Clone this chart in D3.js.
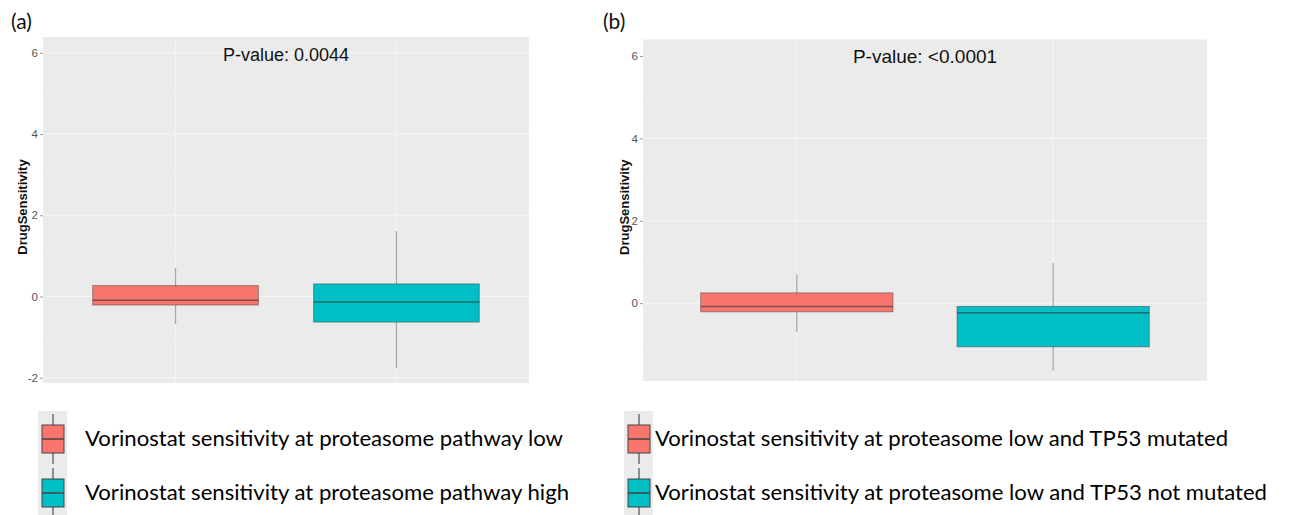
<!DOCTYPE html>
<html>
<head>
<meta charset="utf-8">
<script src="https://cdn.jsdelivr.net/npm/d3@7"></script>
<style>
  body { margin: 0; background: #fff; }
  svg { display: block; }
</style>
</head>
<body>
<div id="container"></div>
<script>
/* DATA */
// panel (a)
const groupsA = ["Vorinostat sensitivity at proteasome pathway low", "Vorinostat sensitivity at proteasome pathway high"]
// five numbers: lower whisker, q1, median, q3, upper whisker
const boxA_low = [-0.68, -0.21, -0.09, 0.27, 0.70]
const boxA_high = [-1.76, -0.63, -0.135, 0.31, 1.61]
const ticksA = [-2, 0, 2, 4, 6]
const minorA = [-1, 1, 3, 5]
const pvalA = "P-value: 0.0044"

// panel (b)
const groupsB = ["Vorinostat sensitivity at proteasome low and TP53 mutated", "Vorinostat sensitivity at proteasome low and TP53 not mutated"]
const boxB_mut = [-0.70, -0.21, -0.08, 0.25, 0.70]
const boxB_notmut = [-1.64, -1.06, -0.235, -0.08, 0.98]
const ticksB = [0, 2, 4, 6]
const minorB = [-1, 1, 3, 5]
const pvalB = "P-value: <0.0001"

const colors = ["#F8766D", "#00BFC4"]

/* CONSTANTS */
const width = 1289
const height = 515

const svg = d3.select("#container")
  .append("svg")
  .attr("width", width)
  .attr("height", height)

svg.append("rect").attr("width", width).attr("height", height).attr("fill", "#fff")

function drawPanel(p) {
  const g = svg.append("g")

  const xScale = d3.scalePoint()
    .domain(p.groups)
    .range([p.left, p.right])
    .padding(0.6)

  const yScale = d3.scaleLinear()
    .domain(p.yDomain)
    .range([p.bottom, p.top])

  const step = xScale.step()
  const boxW = step * 0.75

  // panel background
  g.append("rect")
    .attr("x", p.left).attr("y", p.top)
    .attr("width", p.right - p.left).attr("height", p.bottom - p.top)
    .attr("fill", "#ebebeb")

  // minor grid
  g.selectAll(".minor").data(p.minor).join("line")
    .attr("x1", p.left).attr("x2", p.right)
    .attr("y1", d => yScale(d)).attr("y2", d => yScale(d))
    .attr("stroke", "#f1f1f1").attr("stroke-width", 0.8)

  // major grid
  g.selectAll(".major").data(p.ticks).join("line")
    .attr("x1", p.left).attr("x2", p.right)
    .attr("y1", d => yScale(d)).attr("y2", d => yScale(d))
    .attr("stroke", "#f6f6f6").attr("stroke-width", 1.1)

  g.selectAll(".vgrid").data(p.groups).join("line")
    .attr("x1", d => xScale(d)).attr("x2", d => xScale(d))
    .attr("y1", p.top).attr("y2", p.bottom)
    .attr("stroke", "#f3f3f3").attr("stroke-width", 1.1)

  // axis
  const yAxis = d3.axisLeft(yScale).tickValues(p.ticks).tickFormat(d => String(d)).tickSize(3).tickPadding(2)
  const ax = g.append("g")
    .attr("transform", `translate(${p.left},0)`)
    .call(yAxis)
  ax.select(".domain").remove()
  ax.selectAll(".tick line").attr("stroke", "#999")
  ax.selectAll(".tick text")
    .attr("fill", "#555")
    .style("font-family", "'Liberation Sans', Arial, sans-serif")
    .style("font-size", "11.5px")

  // y title
  g.append("text")
    .attr("transform", `translate(${p.titleX},${(p.top + p.bottom) / 2 - 3}) rotate(-90)`)
    .attr("text-anchor", "middle")
    .style("font-family", "'Liberation Sans', Arial, sans-serif")
    .style("font-weight", "bold")
    .style("font-size", "13px")
    .attr("fill", "#111")
    .text("DrugSensitivity")

  // boxes
  const boxes = g.selectAll(".box").data(p.stats).join("g")
    .attr("transform", (d, i) => `translate(${xScale(p.groups[i])},0)`)

  boxes.append("line")
    .attr("y1", d => yScale(d[0])).attr("y2", d => yScale(d[4]))
    .attr("stroke", "#333").attr("stroke-opacity", 0.4).attr("stroke-width", 1.2)

  boxes.append("rect")
    .attr("x", -boxW / 2).attr("width", boxW)
    .attr("y", d => yScale(d[3]))
    .attr("height", d => yScale(d[1]) - yScale(d[3]))
    .attr("fill", (d, i) => colors[i])
    .attr("stroke", "#333").attr("stroke-opacity", 0.45).attr("stroke-width", 1)

  boxes.append("line")
    .attr("x1", -boxW / 2).attr("x2", boxW / 2)
    .attr("y1", d => yScale(d[2])).attr("y2", d => yScale(d[2]))
    .attr("stroke", "#333").attr("stroke-opacity", 0.6).attr("stroke-width", 1.5)

  // p-value
  g.append("text")
    .attr("x", (p.left + p.right) / 2)
    .attr("y", p.pY)
    .attr("text-anchor", "middle")
    .style("font-family", "'Liberation Sans', Arial, sans-serif")
    .style("font-size", p.pSize)
    .attr("fill", "#111")
    .text(p.pval)

  // panel letter
  svg.append("text")
    .attr("x", p.letterX).attr("y", 29)
    .style("font-family", "Lato, sans-serif")
    .style("font-size", "21px")
    .attr("fill", "#111")
    .text(p.letter)

  // legend
  p.groups.forEach((name, i) => {
    const cy = p.legY[i]
    const kx = p.keyX
    g.append("rect")
      .attr("x", kx - 15).attr("y", cy - 27).attr("width", 29).attr("height", 54)
      .attr("fill", "#ebebeb")
    g.append("line")
      .attr("x1", kx).attr("x2", kx).attr("y1", cy - 24).attr("y2", cy + 26)
      .attr("stroke", "#333").attr("stroke-width", 1)
    g.append("rect")
      .attr("x", kx - 11).attr("y", cy - 13).attr("width", 22).attr("height", 28)
      .attr("fill", colors[i]).attr("stroke", "#444").attr("stroke-width", 1)
    g.append("line")
      .attr("x1", kx - 11).attr("x2", kx + 11).attr("y1", cy + 1).attr("y2", cy + 1)
      .attr("stroke", "#444").attr("stroke-width", 1.5)
    g.append("text")
      .attr("x", p.legTextX).attr("y", cy + 8)
      .attr("textLength", p.legW[i]).attr("lengthAdjust", "spacingAndGlyphs")
      .style("font-family", "Lato, sans-serif")
      .style("font-size", "21px")
      .attr("fill", "#000")
      .text(name)
  })
}

drawPanel({
  groups: groupsA, stats: [boxA_low, boxA_high], ticks: ticksA, minor: minorA,
  yDomain: [-2.13, 6.39], left: 43, right: 529, top: 37, bottom: 383,
  titleX: 27, pval: pvalA, pY: 61, pSize: "18px", letter: "(a)", letterX: 11,
  keyX: 53, legY: [438, 492], legTextX: 85, legW: [478, 484]
})

drawPanel({
  groups: groupsB, stats: [boxB_mut, boxB_notmut], ticks: ticksB, minor: minorB,
  yDomain: [-1.89, 6.40], left: 643, right: 1207, top: 39.5, bottom: 381,
  titleX: 629, pval: pvalB, pY: 63, pSize: "19px", letter: "(b)", letterX: 603,
  keyX: 639, legY: [438, 492], legTextX: 655, legW: [573, 612]
})
</script>
</body>
</html>
